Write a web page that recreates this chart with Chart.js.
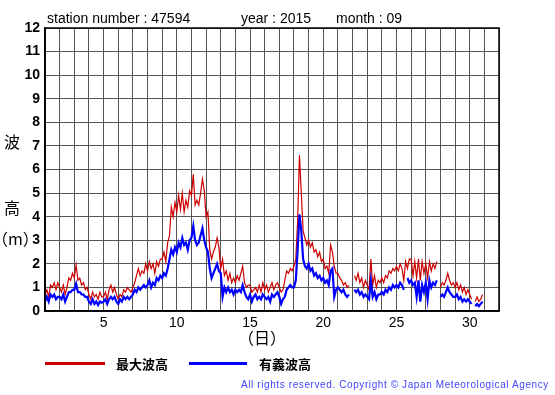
<html>
  <head>
    <meta charset="utf-8">
    <script src="https://cdn.jsdelivr.net/npm/chart.js"></script>
    <style>
      body { margin: 0; background: #fff; }
      #wrap { position: relative; width: 555px; height: 395px; font-family: "Liberation Sans", Arial, sans-serif; }
      #wrap div { position: absolute; white-space: nowrap; }
      .hdr { top: 11px; font-size: 14px; line-height: 14px; color: #000; }
      .cjk { font-family: "Noto Sans CJK JP", sans-serif; font-size: 16px; line-height: 16px; color: #000; }
      .leg { font-family: "Noto Sans CJK JP", sans-serif; font-weight: bold; font-size: 13px; line-height: 14px; top: 357px; }
      .line { height: 3px; top: 362px; }
    </style>
  </head>
  <body>
    <div id="wrap">
      <canvas id="myChart" width="555" height="395"></canvas>
      <div class="hdr" id="st" style="left:47px"></div>
      <div class="hdr" id="yr" style="left:241px"></div>
      <div class="hdr" id="mo" style="left:336px"></div>
      <div class="cjk" style="left:4px; top:133px">波</div>
      <div class="cjk" style="left:4px; top:199px">高</div>
      <div class="cjk" style="left:-8px; top:230px">（m）</div>
      <div class="cjk" style="left:238px; top:329px">（日）</div>
      <div class="line" style="left:45px; width:60px; background:#cc0000"></div>
      <div class="leg" style="left:116px">最大波高</div>
      <div class="line" style="left:189px; width:58px; background:#0000ff"></div>
      <div class="leg" style="left:259px">有義波高</div>
      <div style="left:241px; top:379px; font-size:10px; line-height:11px; letter-spacing:0.6px; color:#4444ff">All rights reserved. Copyright © Japan Meteorological Agency</div>
    </div>
    <script>
      const stationNumber = '47594';
      const year = '2015';
      const month = '09';

      // observations every 3 hours, 8 per day, starting at day 1 00h
      const startDay = 1;
      const stepsPerDay = 8;

      const maxWave = [
        0.7, 0.9, 0.6, 1.1, 1.0, 1.2, 0.9, 1.2,   // 1
        1.0, 0.8, 1.1, 0.7, 1.0, 1.4, 1.3, 1.6,   // 2
        1.4, 1.95, 1.3, 1.4, 1.1, 1.2, 0.9, 1.0,  // 3
        0.7, 0.5, 0.8, 0.6, 0.7, 0.5, 0.8, 0.6,   // 4
        0.6, 0.8, 0.5, 0.9, 1.1, 0.8, 1.0, 0.7,   // 5
        0.5, 0.7, 0.6, 0.9, 0.8, 1.0, 0.9, 0.8,   // 6
        1.0, 1.2, 1.5, 1.8, 1.5, 1.7, 1.6, 2.0,   // 7
        1.7, 2.1, 1.8, 2.0, 1.6, 2.1, 1.9, 2.2,   // 8
        2.2, 2.5, 2.1, 2.9, 3.2, 4.4, 4.0, 4.6,   // 9
        4.2, 4.9, 4.3, 5.0, 4.2, 4.7, 4.4, 5.1,   // 10
        4.9, 5.8, 4.5, 4.7, 4.5, 5.0, 5.6, 5.1,   // 11
        4.0, 4.2, 2.6, 2.2, 2.5, 2.7, 3.1, 2.7,   // 12
        1.8, 2.2, 1.5, 1.7, 1.3, 1.6, 1.2, 1.4,   // 13
        1.2, 1.5, 1.3, 1.6, 1.9, 1.2, 1.0, 1.1,   // 14
        1.1, 0.8, 0.9, 1.0, 0.8, 1.1, 0.8, 1.2,   // 15
        0.9, 1.1, 0.8, 1.0, 1.2, 0.9, 1.1, 1.2,   // 16
        1.0, 0.8, 0.9, 1.3, 1.7, 1.6, 1.8, 1.7,   // 17
        1.9, 2.2, 3.8, 6.6, 5.0, 3.4, 3.1, 2.8,   // 18
        3.0, 2.7, 2.9, 2.5, 2.6, 2.3, 2.5, 2.1,   // 19
        2.2, 1.8, 1.9, 1.6, 2.8, 2.5, 1.9, 1.6,   // 20
        1.6, 1.4, 1.3, 1.1, 1.2, 1.0, 1.1, null,  // 21
        null, 1.5, 1.3, 1.6, 1.2, 1.4, 1.0, 1.3,  // 22
        1.1, 0.9, 2.2, 1.1, 1.5, 1.0, 1.3, 1.2,   // 23
        1.4, 1.2, 1.5, 1.4, 1.7, 1.6, 1.8, 1.7,   // 24
        1.9, 1.7, 2.0, 1.8, 1.3, 2.1, 1.8, 2.2,   // 25
        2.2, 1.5, 2.1, 1.4, 2.2, 1.3, 2.1, 1.6,   // 26
        2.0, 1.4, 2.1, 1.7, 2.0, 1.8, 2.1, null,  // 27
        1.0, 1.2, 1.1, 1.3, 1.6, 1.3, 1.1, 1.2,   // 28
        1.0, 1.2, 0.9, 1.1, 0.8, 1.0, 0.7, 0.9,   // 29
        0.7, 0.5, null, 0.4, 0.6, 0.4, 0.5, 0.7   // 30
      ];

      const sigWave = [
        0.4, 0.6, 0.4, 0.7, 0.6, 0.7, 0.5, 0.6,   // 1
        0.6, 0.5, 0.7, 0.4, 0.6, 0.8, 0.8, 0.9,   // 2
        0.9, 1.15, 0.8, 0.8, 0.7, 0.7, 0.6, 0.6,  // 3
        0.4, 0.3, 0.5, 0.3, 0.4, 0.25, 0.4, 0.35, // 4
        0.4, 0.5, 0.3, 0.5, 0.6, 0.5, 0.6, 0.4,   // 5
        0.3, 0.5, 0.4, 0.6, 0.5, 0.6, 0.5, 0.6,   // 6
        0.7, 0.9, 0.8, 1.0, 0.9, 1.0, 1.1, 1.0,   // 7
        1.1, 1.3, 1.0, 1.2, 1.1, 1.4, 1.3, 1.5,   // 8
        1.4, 1.6, 1.5, 1.8, 2.2, 2.6, 2.4, 2.7,   // 9
        2.5, 2.9, 2.7, 3.1, 2.8, 2.9, 2.6, 3.0,   // 10
        3.1, 3.6, 3.0, 2.8, 2.9, 3.2, 3.5, 3.0,   // 11
        2.7, 2.5, 1.8, 1.4, 1.6, 1.8, 2.0, 1.7,   // 12
        1.6, 0.6, 1.0, 0.8, 1.0, 0.8, 0.9, 0.7,   // 13
        0.9, 0.8, 0.9, 0.8, 1.1, 0.8, 0.6, 0.5,   // 14
        0.7, 0.4, 0.6, 0.7, 0.5, 0.6, 0.5, 0.7,   // 15
        0.6, 0.5, 0.6, 0.4, 0.7, 0.6, 0.7, 0.8,   // 16
        0.6, 0.3, 0.5, 0.6, 0.9, 1.0, 1.1, 1.0,   // 17
        1.0, 1.3, 2.6, 4.1, 3.4, 2.2, 1.9, 1.8,   // 18
        2.0, 1.7, 1.8, 1.5, 1.6, 1.4, 1.5, 1.3,   // 19
        1.4, 1.2, 1.3, 1.1, 1.7, 1.8, 0.6, 0.9,   // 20
        1.0, 0.9, 0.8, 0.9, 0.7, 0.6, 0.7, null,  // 21
        null, 0.9, 0.8, 0.9, 0.7, 0.8, 0.6, 0.7,  // 22
        0.6, 0.5, 1.3, 0.6, 0.8, 0.5, 0.7, 0.7,   // 23
        0.8, 0.7, 0.9, 0.8, 1.0, 0.9, 1.1, 1.0,   // 24
        1.1, 1.0, 1.2, 1.1, 0.9, null, 1.4, 1.2,  // 25
        1.3, 1.1, 1.2, 0.6, 1.3, 0.4, 1.1, 0.8,   // 26
        1.2, 0.5, 1.3, 1.0, 1.2, 1.1, 1.3, null,  // 27
        0.6, 0.7, 0.6, 0.8, 1.0, 0.8, 0.7, 0.6,   // 28
        0.6, 0.7, 0.5, 0.6, 0.4, 0.5, 0.4, 0.5,   // 29
        0.4, 0.3, null, 0.2, 0.3, 0.2, 0.3, 0.4   // 30
      ];

      const xLabelDays = [5, 10, 15, 20, 25, 30];
      const yMin = 0, yMax = 12;
      const xMin = 1, xMax = 32;

      document.getElementById('st').textContent = 'station number : ' + stationNumber;
      document.getElementById('yr').textContent = 'year : ' + year;
      document.getElementById('mo').textContent = 'month : ' + month;

      const toPoints = arr => arr.map((v, i) => ({ x: startDay + i / stepsPerDay, y: v }));

      // frame all four sides of the plot like the original
      const frame = {
        id: 'frame',
        afterDraw(chart) {
          const { ctx, chartArea: a } = chart;
          ctx.save();
          ctx.strokeStyle = '#000';
          ctx.lineWidth = 1.5;
          ctx.strokeRect(a.left, a.top, a.right - a.left, a.bottom - a.top);
          ctx.restore();
        }
      };

      const gridStyle = { color: '#555', lineWidth: 1, drawTicks: false };

      const config = {
        type: 'line',
        data: {
          datasets: [
            {
              label: '有義波高',
              data: toPoints(sigWave),
              borderColor: '#0000ff',
              borderWidth: 2.2,
              pointRadius: 0,
              spanGaps: false,
              order: 1
            },
            {
              label: '最大波高',
              data: toPoints(maxWave),
              borderColor: '#cc0000',
              borderWidth: 1.2,
              pointRadius: 0,
              spanGaps: false,
              order: 2
            }
          ]
        },
        options: {
          responsive: false,
          animation: false,
          devicePixelRatio: 1,
          layout: { padding: { top: 28, right: 56, left: 0, bottom: 0 } },
          plugins: { legend: { display: false }, tooltip: { enabled: false } },
          scales: {
            x: {
              type: 'linear',
              min: xMin,
              max: xMax,
              grid: gridStyle,
              border: { color: '#000', width: 1.5 },
              afterBuildTicks: s => { s.ticks = []; for (let d = xMin; d <= xMax; d++) s.ticks.push({ value: d }); },
              ticks: {
                autoSkip: false,
                maxRotation: 0,
                padding: 4,
                color: '#000',
                font: { family: 'Liberation Sans', size: 14 },
                callback: v => xLabelDays.includes(v) ? String(v) : ''
              },
              afterFit: s => { s.height = 395 - 311; }
            },
            y: {
              min: yMin,
              max: yMax,
              grid: gridStyle,
              border: { color: '#000', width: 1.5 },
              ticks: {
                stepSize: 1,
                padding: 5,
                color: '#000',
                font: { family: 'Liberation Sans', size: 14, weight: 'bold' }
              },
              afterFit: s => { s.width = 45; }
            }
          }
        },
        plugins: [frame]
      };

      const ctx = document.getElementById('myChart').getContext('2d');
      const myChart = new Chart(ctx, config);
    </script>
  </body>
</html>
